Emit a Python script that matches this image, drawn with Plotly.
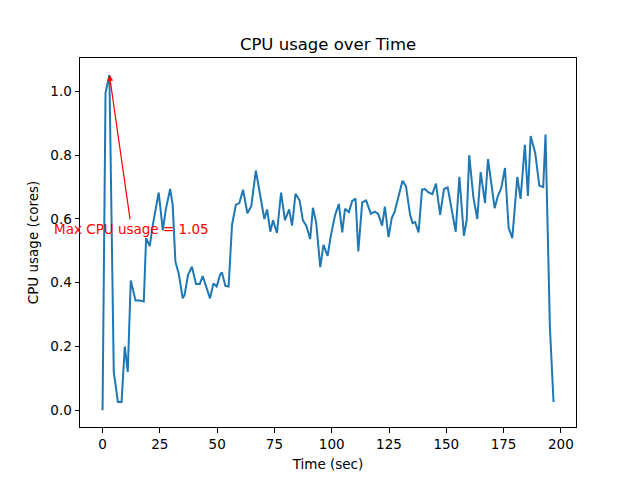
import plotly.graph_objects as go

time_sec = [0, 1.3, 3.0, 4.9, 6.7, 8.3, 9.7, 11.0, 12.3, 14.4, 16.2, 18.0, 19.0, 20.6, 21.9, 23.4, 24.5, 26.3,
            27.6, 29.5, 30.6, 31.8, 33.2, 35.0, 35.8, 37.3, 39.0, 40.8, 42.4, 43.7, 45.3, 46.9, 48.4, 49.8,
            51.3, 52.1, 53.6, 55.0, 56.5, 58.2, 59.7, 61.3, 63.2, 64.9, 66.9, 68.8, 70.6, 71.8, 73.2, 74.4,
            76.1, 77.9, 79.6, 81.4, 82.7, 84.2, 86.0, 87.4, 88.9, 90.6, 91.8, 93.2, 95.0, 96.4, 98.2, 99.6,
            101.4, 103.1, 104.6, 105.8, 107.5, 108.9, 110.4, 111.6, 113.3, 115.0, 117.1, 118.8, 120.3, 122.0,
            123.2, 124.8, 126.2, 127.4, 129.1, 130.9, 132.4, 134.2, 135.3, 136.4, 137.9, 139.4, 140.7, 142.2,
            143.9, 145.5, 147.3, 149.0, 150.6, 152.4, 154.1, 155.7, 157.7, 158.9, 160.0, 161.8, 163.5, 165.0,
            166.9, 168.2, 169.8, 171.1, 172.5, 174.0, 175.6, 177.2, 178.8, 181.0, 182.4, 184.3, 185.6, 186.8,
            188.8, 190.6, 192.3, 193.3, 195.2, 196.8]

cpu_cores = [0.0, 0.996, 1.052, 0.12, 0.026, 0.026, 0.20, 0.12, 0.407, 0.344, 0.344, 0.341, 0.54, 0.515, 0.58,
             0.64, 0.683, 0.564, 0.63, 0.694, 0.645, 0.466, 0.43, 0.351, 0.362, 0.425, 0.45, 0.396, 0.396, 0.421,
             0.383, 0.351, 0.398, 0.388, 0.425, 0.433, 0.39, 0.388, 0.582, 0.645, 0.65, 0.692, 0.618, 0.64, 0.752,
             0.68, 0.60, 0.63, 0.56, 0.596, 0.556, 0.683, 0.596, 0.63, 0.579, 0.679, 0.658, 0.596, 0.579, 0.537,
             0.635, 0.59, 0.449, 0.519, 0.484, 0.547, 0.61, 0.647, 0.558, 0.632, 0.621, 0.656, 0.664, 0.498, 0.652,
             0.658, 0.616, 0.623, 0.616, 0.579, 0.639, 0.543, 0.603, 0.621, 0.671, 0.72, 0.703, 0.613, 0.587, 0.59,
             0.558, 0.692, 0.694, 0.683, 0.678, 0.711, 0.613, 0.694, 0.699, 0.629, 0.56, 0.732, 0.547, 0.597, 0.80,
             0.669, 0.60, 0.747, 0.65, 0.788, 0.697, 0.634, 0.672, 0.697, 0.76, 0.572, 0.54, 0.732, 0.663, 0.833,
             0.672, 0.86, 0.807, 0.704, 0.70, 0.865, 0.262, 0.026]

x_ticks = [0, 25, 50, 75, 100, 125, 150, 175, 200]
y_ticks = [0.0, 0.2, 0.4, 0.6, 0.8, 1.0]
y_tick_labels = ["0.0", "0.2", "0.4", "0.6", "0.8", "1.0"]

max_val = max(cpu_cores)
max_t = time_sec[cpu_cores.index(max_val)]
label_pos = (12.6, 0.569)

font = "DejaVu Sans"

fig = go.Figure()
fig.add_trace(go.Scatter(x=time_sec, y=cpu_cores, mode="lines",
                         line=dict(color="#1f77b4", width=2), showlegend=False))

fig.add_annotation(x=max_t, y=max_val, ax=label_pos[0], ay=label_pos[1],
                   axref="x", ayref="y", xref="x", yref="y",
                   text="Max CPU usage = %.2f" % 1.05, showarrow=True,
                   arrowhead=2, arrowsize=1, arrowwidth=1.2, arrowcolor="red",
                   font=dict(family=font, size=13.5, color="red"))

axis_common = dict(showgrid=False, zeroline=False, showline=True, mirror=True,
                   linecolor="black", linewidth=1, ticks="outside", ticklen=4.5,
                   tickwidth=1, tickcolor="black", automargin=False,
                   tickfont=dict(family=font, size=13.5, color="black"))

fig.update_layout(
    width=640, height=480,
    margin=dict(l=72, r=72, t=50, b=61, autoexpand=False),
    plot_bgcolor="white", paper_bgcolor="white",
    title=dict(text="CPU usage over Time", x=0.5, xanchor="center",
               xref="paper", y=1 - 36 / 480, yanchor="middle", automargin=False,
               font=dict(family=font, size=16.5, color="black")),
    xaxis=dict(range=[-9.84, 206.6], tickvals=x_ticks,
               title=dict(text="Time (sec)", font=dict(family=font, size=13.5, color="black"), standoff=8),
               **axis_common),
    yaxis=dict(range=[-0.0526, 1.105], tickvals=y_ticks, ticktext=y_tick_labels,
               title=dict(text="CPU usage (cores)", font=dict(family=font, size=13.5, color="black"), standoff=8),
               **axis_common),
)

fig.write_html("out.html")
